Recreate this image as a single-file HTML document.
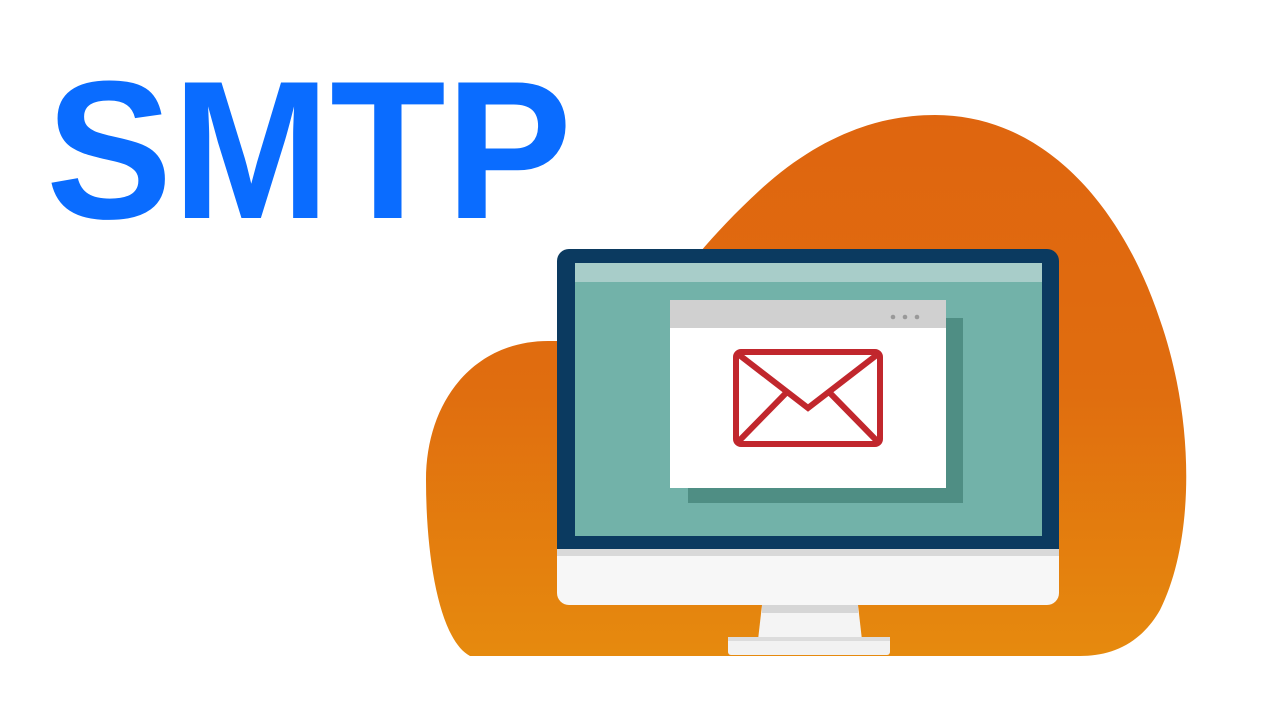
<!DOCTYPE html>
<html><head><style>
html,body{margin:0;padding:0;background:#fff;width:1280px;height:720px;overflow:hidden}
</style></head><body>
<svg width="1280" height="720" viewBox="0 0 1280 720" xmlns="http://www.w3.org/2000/svg">
<defs>
<linearGradient id="g" x1="0" y1="0" x2="0" y2="1">
<stop offset="0" stop-color="#df650f"/>
<stop offset="0.5" stop-color="#e06d0f"/>
<stop offset="1" stop-color="#e68a0e"/>
</linearGradient>
</defs>
<text x="46" y="218" font-family="Liberation Sans, Arial, sans-serif" font-weight="bold" font-size="197" fill="#0a6cff" textLength="526" lengthAdjust="spacingAndGlyphs">SMTP</text>
<path d="M470 656 C440 640 426 560 426 480 C426 400 475 340 550 341 L640 341 C660 300 700 245 760 190 C820 135 880 115 935 115 C1040 115 1120 200 1160 320 C1195 420 1195 540 1160 610 C1140 645 1110 656 1080 656 Z" fill="url(#g)"/>
<!-- monitor -->
<path d="M569 249 H1047 a12 12 0 0 1 12 12 V549 H557 V261 a12 12 0 0 1 12 -12 Z" fill="#0b3a60"/>
<path d="M557 549 H1059 V593 a12 12 0 0 1 -12 12 H569 a12 12 0 0 1 -12 -12 Z" fill="#f7f7f7"/>
<rect x="557" y="549" width="502" height="7" fill="#d9d9d9"/>
<rect x="575" y="263" width="467" height="273" fill="#72b2a9"/>
<rect x="575" y="263" width="467" height="19" fill="#a8cdc9"/>
<path d="M762 605 H858 L862 640 H758 Z" fill="#f4f4f4"/>
<rect x="762" y="605" width="96" height="8" fill="#d6d6d6"/>
<rect x="728" y="637" width="162" height="18" rx="3" fill="#f2f2f2"/>
<rect x="728" y="637" width="162" height="4" fill="#dcdcdc"/>
<!-- window -->
<rect x="688" y="318" width="275" height="185" fill="#4f8e84"/>
<rect x="670" y="300" width="276" height="188" fill="#fff"/>
<rect x="670" y="300" width="276" height="28" fill="#d0d0d0"/>
<circle cx="893" cy="317" r="2.3" fill="#999"/>
<circle cx="905" cy="317" r="2.3" fill="#999"/>
<circle cx="917" cy="317" r="2.3" fill="#999"/>
<!-- envelope -->
<rect x="736" y="352" width="144" height="92" rx="5" fill="none" stroke="#c1272d" stroke-width="6"/>
<path d="M738 354 L808 408 L878 354 M738 442 L787 392 M878 442 L829 392" fill="none" stroke="#c1272d" stroke-width="6"/>
</svg>
</body></html>
